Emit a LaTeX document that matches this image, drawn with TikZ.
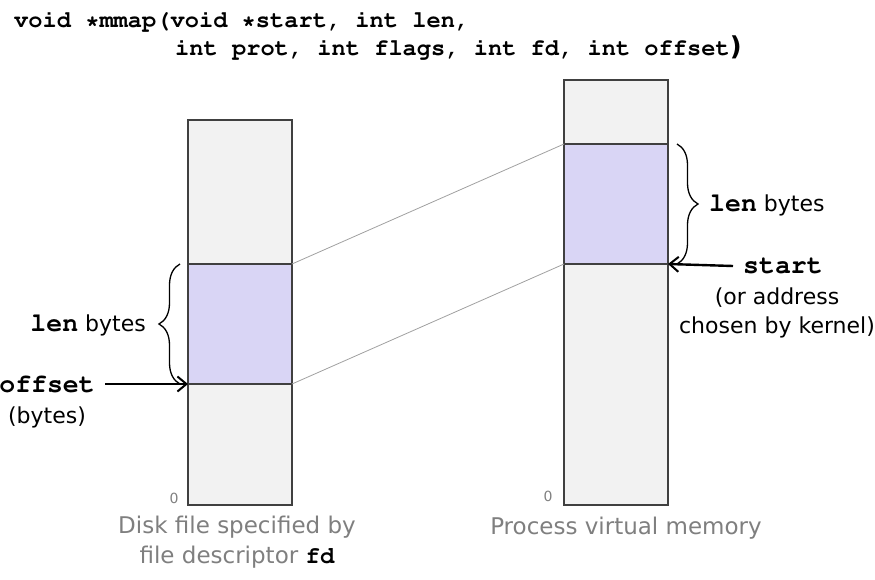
\documentclass[tikz,border=0pt]{standalone}
\usepackage{fontspec}
\setmainfont{DejaVu Sans}
\usetikzlibrary{arrows.meta,decorations.pathreplacing}
\newcommand\courb{\fontencoding{T1}\fontfamily{pcr}\fontseries{b}\selectfont}
\definecolor{boxfill}{HTML}{F2F2F2}
\definecolor{boxline}{HTML}{404040}
\definecolor{regfill}{HTML}{D9D5F5}
\definecolor{mapline}{HTML}{A0A0A0}
\definecolor{captext}{HTML}{7F7F7F}
\tikzset{
  membox/.style={draw=boxline, line width=1.8pt, fill=boxfill, minimum width=104pt, inner sep=0pt, outer sep=0pt},
  region/.style={draw=boxline, line width=1.3pt, fill=regfill, minimum width=104pt, minimum height=120pt, inner sep=0pt, outer sep=0pt},
  mapping/.style={draw=mapline, line width=0.8pt},
  ptr/.style={line width=2.4pt, -{Straight Barb[length=9pt,width=15pt,line width=2pt]}},
  curly/.style={decorate, line width=1.3pt, decoration={brace, amplitude=21pt, aspect=0.5}},
  lab/.style={inner sep=0pt, font=\fontsize{22}{29}\selectfont, align=center},
  monolab/.style={inner sep=0pt, font=\fontsize{26.5}{30}\courb},
  captionsty/.style={inner sep=0pt, text=captext, font=\fontsize{23}{30.5}\selectfont, align=center},
  zero/.style={inner sep=0pt, text=captext, font=\fontsize{14}{16}\selectfont},
  titlesty/.style={inner sep=0pt, font=\fontsize{23.7}{28}\courb}
}
\begin{document}
\begin{tikzpicture}[x=1pt,y=-1pt]
\useasboundingbox (0,0) rectangle (875,580);
% title
\node[titlesty, anchor=base west] (t1) at (14,28) {void *mmap(void *start, int len,};
\node[titlesty, anchor=base west] (t2) at (175,56) {int prot, int flags, int fd, int offset\textnormal{\bfseries\fontsize{26}{28}\selectfont)}};
% boxes
\node[membox, minimum height=385pt] (lbox) at (240,312.5) {};
\node[membox, minimum height=425pt] (rbox) at (616,292.5) {};
\node[region] (lreg) at (240,324) {};
\node[region] (rreg) at (616,204) {};
\draw[boxline, line width=1.8pt] (lbox.north west) rectangle (lbox.south east);
\draw[boxline, line width=1.8pt] (rbox.north west) rectangle (rbox.south east);
% mapping lines
\draw[mapping] (lreg.north east) -- (rreg.north west);
\draw[mapping] (lreg.south east) -- (rreg.south west);
% left labels
\node[lab, anchor=east] (llen) at (146,325) {{\fontsize{26.5}{30}\courb len} bytes};
\node[monolab, anchor=east, inner xsep=10pt] (off) at (105,384) {offset};
\node[lab] (offb) at (47,417) {(bytes)};
\draw[ptr] (off.east) -- (lreg.south west);
\coordinate (lb1) at (180,384);
\coordinate (lb2) at (180,264);
\draw[curly] (lb1) -- (lb2);
% right labels
\coordinate (rb1) at (677,144);
\coordinate (rb2) at (677,264);
\draw[curly] (rb1) -- (rb2);
\node[lab, anchor=west] (rlen) at (709,205) {{\fontsize{26.5}{30}\courb len} bytes};
\node[monolab, anchor=west, inner xsep=10pt] (st) at (733,266) {start};
\draw[ptr] (st.west) -- (rreg.south east);
\node[lab] (stn) at (777,312.5) {(or address\\chosen by kernel)};
% zeros
\node[zero] (z1) at (174,498) {0};
\node[zero] (z2) at (548,496) {0};
% captions
\node[captionsty] (lcap) at (237,542) {Disk file specified by\\file descriptor {\color{black}\fontsize{24}{30}\courb fd}};
\node[captionsty] (rcap) at (626,528) {Process virtual memory};
\end{tikzpicture}
\end{document}
